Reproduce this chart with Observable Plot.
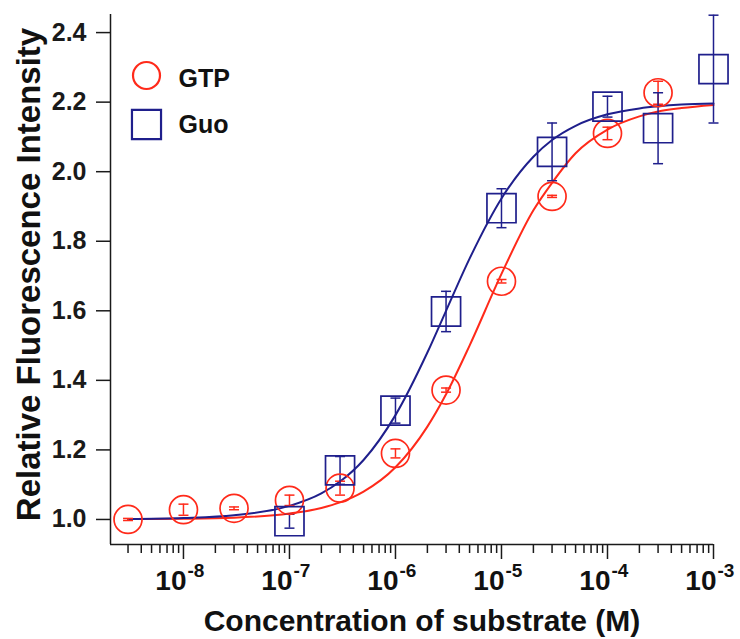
<!DOCTYPE html>
<html><head><meta charset="utf-8">
<script src="https://cdn.jsdelivr.net/npm/d3@7"></script>
<script src="https://cdn.jsdelivr.net/npm/@observablehq/plot@0.6"></script>
<style>body{margin:0;background:#fff}</style>
</head><body><div id="chart"></div>
<script>
// ---- data ----
const seriesNames = ["GTP", "Guo"];

const concGTP = [3e-9, 1e-8, 3e-8, 1e-7, 3e-7, 1e-6, 3e-6, 1e-5, 3e-5, 1e-4, 3e-4];
const gtpMean = [1.000, 1.028, 1.032, 1.055, 1.090, 1.190, 1.372, 1.685, 1.929, 2.110, 2.227];
const gtpErr  = [0.003, 0.016, 0.004, 0.015, 0.020, 0.013, 0.006, 0.005, 0.003, 0.018, 0.033];

const concGuo = [1e-7, 3e-7, 1e-6, 3e-6, 1e-5, 3e-5, 1e-4, 3e-4, 1e-3];
const guoMean = [0.995, 1.141, 1.313, 1.598, 1.895, 2.057, 2.187, 2.125, 2.295];
const guoErr  = [0.020, 0.040, 0.036, 0.058, 0.056, 0.083, 0.030, 0.102, 0.155];

// fitted curves
const curveConc = [3e-9, 1e-8, 3e-8, 1e-7, 2e-7, 3e-7, 5e-7, 1e-6, 2e-6, 3e-6, 5e-6, 1e-5, 2e-5, 3e-5, 5e-5, 1e-4, 2e-4, 3e-4, 5e-4, 1e-3];
const gtpFit = [1.001, 1.002, 1.005, 1.017, 1.033, 1.049, 1.080, 1.150, 1.267, 1.360, 1.500, 1.706, 1.889, 1.968, 2.053, 2.121, 2.159, 2.173, 2.183, 2.192];
const guoFit = [1.001, 1.004, 1.012, 1.039, 1.075, 1.109, 1.171, 1.300, 1.480, 1.600, 1.750, 1.923, 2.043, 2.091, 2.132, 2.165, 2.182, 2.188, 2.193, 2.196];

// axes
const xDomain = [2.05e-9, 1e-3];
const yDomain = [0.928, 2.452];
const yTicks = [1.0, 1.2, 1.4, 1.6, 1.8, 2.0, 2.2, 2.4];
const majorTicks = [1e-8, 1e-7, 1e-6, 1e-5, 1e-4, 1e-3];
const tickExponents = ["-8", "-7", "-6", "-5", "-4", "-3"];
const minorMultipliers = [2, 3, 4, 5, 6, 7, 8, 9];
const xTitle = "Concentration of substrate (M)";
const yTitle = "Relative Fluorescence Intensity";

// ---- build tables ----
const gtpPts = concGTP.map((c, i) => ({c, y: gtpMean[i], e: gtpErr[i]}));
const guoPts = concGuo.map((c, i) => ({c, y: guoMean[i], e: guoErr[i]}));
const gtpCurve = curveConc.map((c, i) => ({c, v: gtpFit[i]}));
const guoCurve = curveConc.map((c, i) => ({c, v: guoFit[i]}));
const minorTicks = [1e-9, ...majorTicks.slice(0, -1)]
  .flatMap(d => minorMultipliers.map(m => d * m))
  .filter(v => v >= xDomain[0] && v <= xDomain[1]);

const font = "'Liberation Sans', Arial, Helvetica, sans-serif";
const red = "#ff2a1a";
const blue = "#1f1f8c";
const axisColor = "#1a1a1a";
const ink = "#111";
const cap = {draw(ctx) { ctx.moveTo(-5, 0); ctx.lineTo(5, 0); }};

function errorMarks(pts, color) {
  return [
    Plot.ruleX(pts, {x: "c", y1: d => d.y - d.e, y2: d => d.y + d.e, stroke: color, strokeWidth: 1.5}),
    Plot.dot(pts, {x: "c", y: d => d.y + d.e, symbol: cap, r: 5, stroke: color, strokeWidth: 1.5}),
    Plot.dot(pts, {x: "c", y: d => d.y - d.e, symbol: cap, r: 5, stroke: color, strokeWidth: 1.5})
  ];
}

const chart = Plot.plot({
  width: 740,
  height: 639,
  marginLeft: 110,
  marginRight: 27,
  marginTop: 14,
  marginBottom: 95,
  style: {fontFamily: font, background: "#fff", color: ink, overflow: "visible"},
  x: {type: "log", domain: xDomain},
  y: {domain: yDomain},
  marks: [
    // axis lines
    Plot.ruleX([xDomain[0]], {stroke: axisColor, strokeWidth: 1.5}),
    Plot.ruleY([yDomain[0]], {stroke: axisColor, strokeWidth: 1.5}),
    // y axis
    Plot.axisY({ticks: yTicks, tickFormat: d => d.toFixed(1), tickSize: 14, tickPadding: 10,
      fontSize: 25, fontWeight: "bold", color: axisColor, strokeWidth: 1.5, label: null}),
    // x axis ticks
    Plot.axisX({ticks: majorTicks, tickSize: 15, tickFormat: () => "", color: axisColor, strokeWidth: 1.5, label: null}),
    Plot.axisX({ticks: minorTicks, tickSize: 9, tickFormat: () => "", color: axisColor, strokeWidth: 1.5, label: null}),
    // x tick labels 10^n
    Plot.text(majorTicks, {x: d => d, frameAnchor: "bottom", text: () => "10", textAnchor: "end", lineAnchor: "middle",
      dx: 3, dy: 37, fontSize: 28, fontWeight: "bold", fill: ink}),
    Plot.text(majorTicks, {x: d => d, frameAnchor: "bottom", text: (d, i) => tickExponents[i], textAnchor: "start", lineAnchor: "middle",
      dx: 4, dy: 26, fontSize: 19, fontWeight: "bold", fill: ink}),
    // titles
    Plot.text([xTitle], {frameAnchor: "bottom", textAnchor: "middle", lineAnchor: "middle", dx: 10, dy: 77,
      fontSize: 30, fontWeight: "bold", fill: ink}),
    Plot.text([yTitle], {frameAnchor: "left", rotate: -90, textAnchor: "middle", lineAnchor: "middle", dx: -81, dy: -5,
      fontSize: 33, fontWeight: "bold", fill: ink}),
    // fit curves
    Plot.line(gtpCurve, {x: "c", y: "v", stroke: red, strokeWidth: 2, curve: "monotone-x"}),
    Plot.line(guoCurve, {x: "c", y: "v", stroke: blue, strokeWidth: 2, curve: "monotone-x"}),
    // error bars
    ...errorMarks(gtpPts, red),
    ...errorMarks(guoPts, blue),
    // markers
    Plot.dot(gtpPts, {x: "c", y: "y", r: 14, stroke: red, strokeWidth: 1.7, fill: "none"}),
    Plot.dot(guoPts, {x: "c", y: "y", r: 16.4, symbol: "square", stroke: blue, strokeWidth: 1.7, fill: "none"}),
    // legend
    Plot.dot([seriesNames[0]], {frameAnchor: "top-left", dx: 36, dy: 61, r: 13.5, stroke: red, strokeWidth: 2.2, fill: "none"}),
    Plot.dot([seriesNames[1]], {frameAnchor: "top-left", dx: 36, dy: 110, r: 16.4, symbol: "square", stroke: blue, strokeWidth: 2.2, fill: "none"}),
    Plot.text([seriesNames[0]], {frameAnchor: "top-left", text: d => d, dx: 68, dy: 64, textAnchor: "start", lineAnchor: "middle",
      fontSize: 25, fontWeight: "bold", fill: ink}),
    Plot.text([seriesNames[1]], {frameAnchor: "top-left", text: d => d, dx: 68, dy: 110, textAnchor: "start", lineAnchor: "middle",
      fontSize: 25, fontWeight: "bold", fill: ink})
  ]
});
document.getElementById("chart").appendChild(chart);
</script>
</body></html>
